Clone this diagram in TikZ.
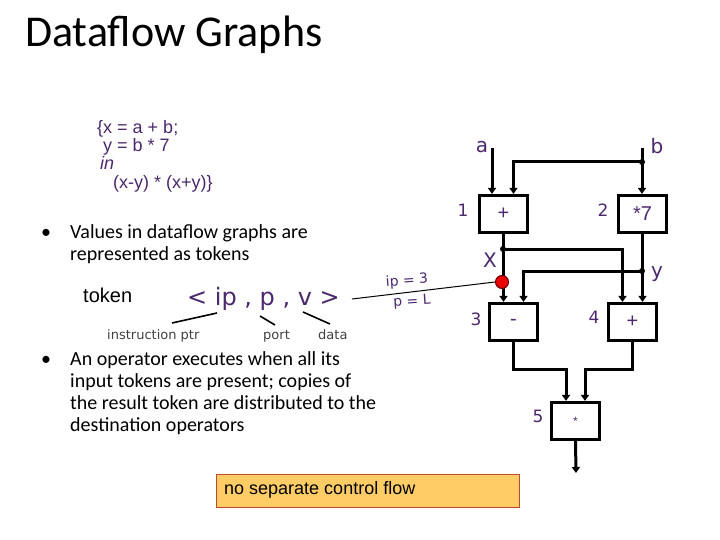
\documentclass[tikz,border=0pt]{standalone}
\usepackage{fontspec}
\setmainfont{Carlito}
\newfontfamily\arialf{Liberation Sans}
\newfontfamily\dvf{DejaVu Sans}
\usetikzlibrary{arrows.meta,calc}
\definecolor{dpurple}{RGB}{75,40,110}
\definecolor{noteFill}{RGB}{255,204,102}
\definecolor{noteLine}{RGB}{190,75,45}
\definecolor{dotRed}{RGB}{235,0,0}
\tikzset{
  opbox/.style={draw=black, line width=3.2pt, minimum width=48pt, minimum height=37pt, inner sep=0pt, font=\arialf\fontsize{20}{22}\selectfont, text=dpurple},
  flow/.style={line width=3pt, -{Triangle[width=8pt,length=6pt]}},
  numlbl/.style={font=\dvf\fontsize{17}{19}\selectfont, text=dpurple, inner sep=0pt},
  varlbl/.style={font=\dvf\fontsize{20}{22}\selectfont, text=dpurple, inner sep=0pt},
  jdot/.style={circle, fill=black, inner sep=0pt, minimum size=6pt},
  bodytext/.style={font=\fontsize{20}{24}\selectfont, anchor=base west, inner sep=0pt},
  codetext/.style={font=\arialf\fontsize{18}{20}\selectfont, text=dpurple, anchor=base west, inner sep=0pt},
  ptrline/.style={line width=1.6pt},
  smalllbl/.style={font=\dvf\fontsize{13}{15}\selectfont, text=black!75, anchor=base west, inner sep=0pt}
}
\begin{document}
\begin{tikzpicture}[x=1pt,y=-1pt]
\useasboundingbox (0,0) rectangle (720,540);
% title
\node[anchor=base west, inner sep=0pt, font=\fontsize{44}{48}\selectfont] (title) at (25,47) {Dataflow Graphs};
% code
\node[codetext] (c1) at (97,134) {\{x = a + b;};
\node[codetext] (c2) at (103,152) {y = b * 7};
\node[codetext, font=\arialf\itshape\fontsize{18}{20}\selectfont] (c3) at (100,170) {in};
\node[codetext] (c4) at (113,189) {(x-y) * (x+y)\}};
% bullets
\node[bodytext] (bul1) at (41,238) {\textbullet};
\node[bodytext] (t1a) at (70,238) {Values in dataflow graphs are};
\node[bodytext] (t1b) at (70,260) {represented as tokens};
\node[bodytext] (bul2) at (41,365) {\textbullet};
\node[bodytext] (t2a) at (70,365) {An operator executes when all its};
\node[bodytext] (t2b) at (70,387) {input tokens are present; copies of};
\node[bodytext] (t2c) at (70,409) {the result token are distributed to the};
\node[bodytext] (t2d) at (70,431) {destination operators};
% token
\node[anchor=base west, inner sep=0pt, font=\arialf\fontsize{20}{22}\selectfont] (tok) at (83,302) {token};
\node[anchor=base west, inner sep=0pt, font=\dvf\fontsize{24}{26}\selectfont, text=dpurple] (tuple) at (187,305) {< ip , p , v >};
\node[smalllbl] (lip) at (107,339) {instruction ptr};
\node[smalllbl] (lport) at (263,339) {port};
\node[smalllbl] (ldata) at (318,339) {data};
\coordinate (ipa) at (172,323); \coordinate (ipb) at (217,313);
\coordinate (pa) at (260,316); \coordinate (pb) at (275,325);
\coordinate (da) at (303,312); \coordinate (db) at (330,324);
\draw[ptrline] (ipa) -- (ipb);
\draw[ptrline] (pa) -- (pb);
\draw[ptrline] (da) -- (db);
% boxes
\node[opbox] (b1) at (503.5,214) {+};
\node[opbox] (b2) at (642.5,214) {*7};
\node[opbox] (b3) at (513.5,322) {-};
\node[opbox] (b4) at (632.5,322) {+};
\node[opbox, font=\arialf\fontsize{12}{14}\selectfont] (b5) at (575.5,421) {*};
\node[numlbl] (n1) at (463,210) {1};
\node[numlbl] (n2) at (603,210) {2};
\node[numlbl] (n3) at (476,319) {3};
\node[numlbl] (n4) at (594,317) {4};
\node[numlbl] (n5) at (538,416) {5};
\node[varlbl] (va) at (482,147) {a};
\node[varlbl] (vb) at (657,146) {b};
\node[varlbl] (vx) at (490,260) {X};
\node[varlbl] (vy) at (657,274) {y};
% inputs
\coordinate (ain) at (492,148);
\coordinate (bin) at (642,148);
\coordinate (j1) at (642,162);
\coordinate (jx) at (503,249);
\coordinate (jy) at (642,271);
\draw[flow] (ain) -- (ain |- b1.north);
\draw[flow] (bin) -- (bin |- b2.north);
\draw[flow] (j1) -| ($(b1.north)+(10,0)$);
\draw[flow] (b1.south) -- ($(b3.north)+(-10,0)$);
\draw[flow] (jx) -| ($(b4.north)+(-10,0)$);
\draw[flow] (b2.south) -- ($(b4.north)+(10,0)$);
\draw[flow] (jy) -| ($(b3.north)+(10,0)$);
\draw[flow] (b3.south) -- ++(0,27) -| ($(b5.north)+(-9.5,0)$);
\draw[flow] (b4.south) -- ++(0,27) -| ($(b5.north)+(9.5,0)$);
\coordinate (out) at (576,473);
\draw[flow] (b5.south) -- (out);
\node[jdot] (dj1) at (j1) {};
\node[jdot] (djx) at (jx) {};
\node[jdot] (djy) at (jy) {};
% token in flight
\node[circle, fill=dotRed, draw=black!60!red, line width=1pt, minimum size=13pt, inner sep=0pt] (tokdot) at (502,282) {};
\coordinate (tla) at (352,299);
\draw[line width=1pt] (tla) -- (tokdot.west);
\node[font=\dvf\fontsize{14}{16}\selectfont, text=dpurple, inner sep=0pt, rotate=4] (ip3) at (407,281) {ip = 3};
\node[font=\dvf\fontsize{14}{16}\selectfont, text=dpurple, inner sep=0pt, rotate=4] (pL) at (412,302) {p = L};
% note
\node[draw=noteLine, fill=noteFill, line width=1pt, minimum width=303pt, minimum height=33pt, anchor=north west, inner sep=0pt] (note) at (216,474) {};
\node[anchor=west, inner sep=0pt, font=\arialf\fontsize{18}{20}\selectfont] (notetxt) at (224,490) {no separate control flow};
\end{tikzpicture}
\end{document}
